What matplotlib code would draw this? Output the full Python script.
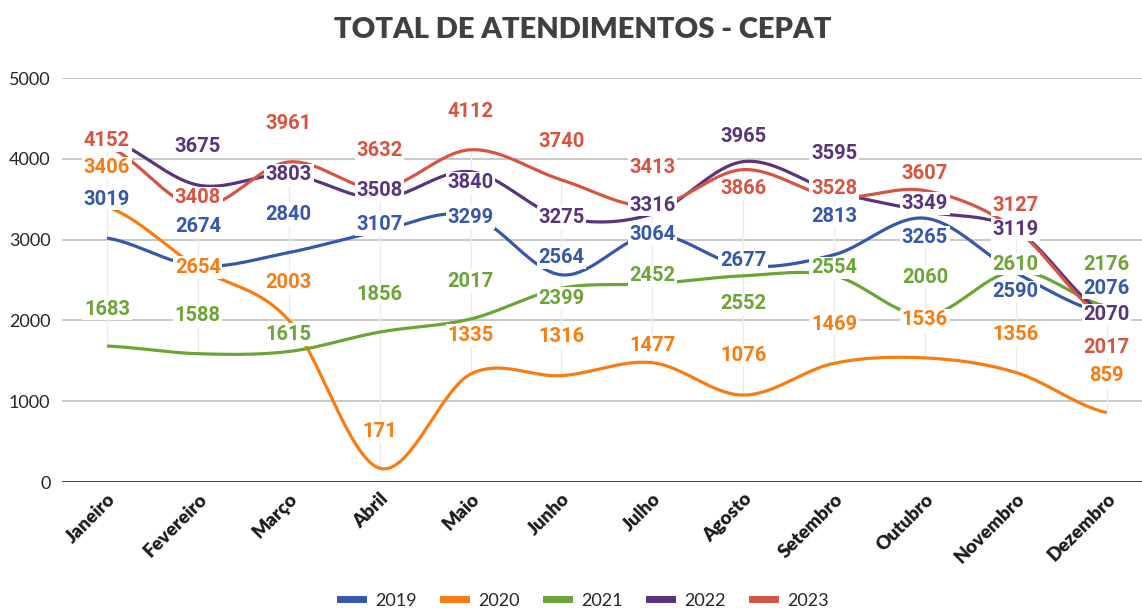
import numpy as np
import matplotlib.pyplot as plt
from matplotlib.lines import Line2D

months = ["Janeiro", "Fevereiro", "Março", "Abril", "Maio", "Junho",
          "Julho", "Agosto", "Setembro", "Outubro", "Novembro", "Dezembro"]
years = ["2019", "2020", "2021", "2022", "2023"]

v2019 = [3019, 2674, 2840, 3107, 3299, 2564, 3064, 2677, 2813, 3265, 2590, 2076]
v2020 = [3406, 2654, 2003, 171, 1335, 1316, 1477, 1076, 1469, 1536, 1356, 859]
v2021 = [1683, 1588, 1615, 1856, 2017, 2399, 2452, 2552, 2554, 2060, 2610, 2176]
v2022 = [4250, 3675, 3803, 3508, 3840, 3275, 3316, 3965, 3595, 3349, 3119, 2070]
v2023 = [4152, 3408, 3961, 3632, 4112, 3740, 3413, 3866, 3528, 3607, 3127, 2017]
values = [v2019, v2020, v2021, v2022, v2023]

colors = ["#3558ac", "#f97c13", "#6ba536", "#58347f", "#d65441"]

# where the value label sits relative to its point, in pixels (positive = lower)
label_dy = [
    [-39, -39, -38, -6, 2, -17, 0, -5, -38, 19, 19, -26],
    [-39, 0, -38, -37, -39, -39, -17, -40, -39, -38, -38, -37],
    [-37, -38, -17, -38, -38, 10, -8, 28, -8, -38, -7, -42],
    [None, -39, 0, -8, 11, 0, -9, -25, -38, -8, 0, 0],
    [-6, -9, -38, -38, -38, -38, -39, 19, -8, -17, -24, 28],
]


def smooth(y, n=40):
    # catmull-rom spline through the points
    y = np.asarray(y, float)
    m = np.empty_like(y)
    m[1:-1] = (y[2:] - y[:-2]) / 2
    m[0] = (y[1] - y[0]) / 2
    m[-1] = (y[-1] - y[-2]) / 2
    t = np.linspace(0, 1, n, endpoint=False)
    h00 = 2 * t**3 - 3 * t**2 + 1
    h10 = t**3 - 2 * t**2 + t
    h01 = -2 * t**3 + 3 * t**2
    h11 = t**3 - t**2
    xs, ys = [], []
    for i in range(len(y) - 1):
        xs.append(i + t)
        ys.append(h00 * y[i] + h10 * m[i] + h01 * y[i + 1] + h11 * m[i + 1])
    xs.append([len(y) - 1])
    ys.append([y[-1]])
    return np.concatenate(xs), np.concatenate(ys)


fig = plt.figure(figsize=(11.42, 6.08), dpi=100)
ax = fig.add_axes([0.0539, 0.2072, 0.947, 0.6645])

x = np.arange(len(months))

# faint drop lines between the lowest and highest value of each month
arr = np.array(values)
ax.vlines(x, arr.min(axis=0), arr.max(axis=0), color="#ebebeb", lw=1, zorder=1)

for vals, col in zip(values, colors):
    sx, sy = smooth(vals)
    ax.plot(sx, sy, color=col, lw=2.3, zorder=3, solid_capstyle="butt")

for vals, col, offs in zip(values, colors, label_dy):
    for i, (v, dy) in enumerate(zip(vals, offs)):
        if dy is None:
            continue
        ax.annotate(str(v), (i, v), xytext=(0, -dy), textcoords="offset pixels",
                    ha="center", va="center", color=col, fontsize=14.5,
                    family="Roboto", fontweight="bold", zorder=5,
                    bbox=dict(boxstyle="square,pad=0.08", fc="white", ec="none"))

ax.set_xlim(-0.5, 11.4)
ax.set_ylim(0, 5000)
ax.set_yticks([0, 1000, 2000, 3000, 4000, 5000])
ax.set_xticks(x)
ax.set_xticklabels(months, rotation=45, ha="right", rotation_mode="anchor",
                   family="Lato", fontweight="heavy", fontsize=13.5, color="#1a1a1a")
for lab in ax.get_yticklabels():
    lab.set_family("Lato")
    lab.set_fontsize(13)
    lab.set_color("#262626")
ax.tick_params(axis="both", length=0)
ax.tick_params(axis="y", pad=8)
ax.tick_params(axis="x", pad=6)

ax.grid(axis="y", color="#c8c8c8", lw=1.4, zorder=0)
ax.set_axisbelow(True)
for s in ["top", "right", "left", "bottom"]:
    ax.spines[s].set_visible(False)
ax.axhline(0, color="#333333", lw=2, zorder=2)

fig.suptitle("TOTAL DE ATENDIMENTOS - CEPAT", x=0.51, y=0.972, family="Lato",
             fontweight="heavy", fontsize=21, color="#404040")

handles = [Line2D([0], [0], color=c, lw=5) for c in colors]
fig.legend(handles, years, loc="lower center", bbox_to_anchor=(0.512, -0.028),
           ncol=5, frameon=False, handlelength=1.25, handletextpad=0.7,
           columnspacing=1.45, prop={"family": "Lato", "size": 13})
for t in fig.legends[0].get_texts():
    t.set_color("#262626")

fig.savefig("out.png", dpi=100)
